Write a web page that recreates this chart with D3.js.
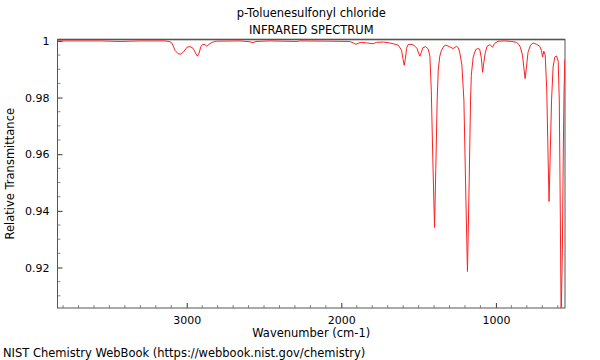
<!DOCTYPE html>
<html>
<head>
<meta charset="utf-8">
<script src="https://cdn.jsdelivr.net/npm/d3@7"></script>
<style>
  body { margin: 0; background: #fff; }
  svg { font-family: "DejaVu Sans", sans-serif; }
</style>
</head>
<body>
<div id="chart"></div>
<script>
// spectrum (wavenumber, transmittance)
const wavenumbers = [3836, 3560, 3431, 3300, 3140, 3108, 3095, 3076, 3056, 3037, 3017, 2998, 2979, 2959, 2943, 2931, 2920, 2908, 2895, 2882, 2869, 2856, 2836, 2810, 2655, 2591, 2571, 2552, 2462, 2287, 2270, 2074, 1945, 1919, 1906, 1886, 1869, 1836, 1794, 1772, 1729, 1697, 1665, 1632, 1610, 1602, 1593, 1585, 1578, 1568, 1550, 1531, 1511, 1500, 1492, 1482, 1473, 1453, 1438, 1427, 1418, 1408, 1397, 1389, 1380, 1373, 1363, 1352, 1337, 1324, 1298, 1277, 1255, 1243, 1233, 1220, 1207, 1194, 1184, 1175, 1164, 1159, 1147, 1130, 1117, 1105, 1094, 1086, 1078, 1068, 1057, 1039, 1022, 1007, 986, 942, 897, 867, 852, 842, 828, 819, 811, 803, 792, 776, 759, 737, 716, 706, 698, 690, 681, 671, 662, 656, 648, 640, 630, 619, 608, 597, 590, 583, 578, 570, 564, 559, 554];
const transmittance = [1.0000, 1.0000, 0.9998, 1.0000, 1.0000, 0.9997, 0.9992, 0.9967, 0.9955, 0.9953, 0.9964, 0.9978, 0.9980, 0.9974, 0.9957, 0.9946, 0.9957, 0.9981, 0.9988, 0.9987, 0.9981, 0.9988, 0.9995, 0.9999, 1.0000, 0.9997, 0.9994, 0.9998, 1.0000, 0.9998, 1.0000, 0.9999, 0.9998, 0.9992, 0.9988, 0.9993, 0.9995, 0.9993, 0.9990, 0.9995, 0.9996, 0.9994, 0.9990, 0.9985, 0.9967, 0.9939, 0.9914, 0.9939, 0.9974, 0.9987, 0.9988, 0.9985, 0.9974, 0.9957, 0.9946, 0.9960, 0.9976, 0.9980, 0.9971, 0.9946, 0.9826, 0.9580, 0.9341, 0.9545, 0.9791, 0.9897, 0.9946, 0.9967, 0.9981, 0.9985, 0.9979, 0.9973, 0.9981, 0.9976, 0.9957, 0.9914, 0.9791, 0.9438, 0.9186, 0.9438, 0.9791, 0.9879, 0.9943, 0.9970, 0.9973, 0.9971, 0.9939, 0.9889, 0.9925, 0.9960, 0.9981, 0.9987, 0.9978, 0.9992, 0.9999, 1.0000, 0.9998, 0.9995, 0.9988, 0.9978, 0.9950, 0.9904, 0.9867, 0.9904, 0.9960, 0.9985, 0.9993, 0.9988, 0.9981, 0.9967, 0.9943, 0.9964, 0.9950, 0.9826, 0.9580, 0.9433, 0.9615, 0.9791, 0.9908, 0.9943, 0.9947, 0.9928, 0.9791, 0.9368, 0.9016, 0.9263, 0.9615, 0.9826, 0.9934];

const xMajorTicks = [3000, 2000, 1000];
const yMajorTicks = [1, 0.98, 0.96, 0.94, 0.92];
const yTickLabels = ["1", "0.98", "0.96", "0.94", "0.92"];

const width = 600, height = 360;
const margin = { top: 39.5, right: 35, bottom: 52, left: 57.5 };

const svg = d3.select("#chart")
  .append("svg")
  .attr("width", width)
  .attr("height", height);

const x = d3.scaleLinear()
  .domain([3836, 553])
  .range([margin.left, width - margin.right]);

const y = d3.scaleLinear()
  .domain([0.9057, 1.0005])
  .range([height - margin.bottom, margin.top]);

const points = wavenumbers.map((w, i) => [w, transmittance[i]]);

// clip so the deepest band runs off the bottom like in the original
svg.append("clipPath")
  .attr("id", "plot-clip")
  .append("rect")
  .attr("x", margin.left)
  .attr("y", margin.top)
  .attr("width", width - margin.left - margin.right)
  .attr("height", height - margin.top - margin.bottom);

const line = d3.line()
  .x(d => x(d[0]))
  .y(d => y(d[1]));

// x ticks, pointing up into the plot
const xMinor = d3.range(600, 3900, 100).filter(v => !xMajorTicks.includes(v) && v <= 3836 && v >= 553);
const xAxis = svg.append("g")
  .attr("transform", `translate(0,${height - margin.bottom})`)
  .call(d3.axisBottom(x).tickValues(xMajorTicks).tickSize(-5).tickPadding(8).tickFormat(d3.format("d")));
xAxis.select(".domain").remove();
xAxis.selectAll("line").attr("stroke", "#333");
xAxis.selectAll("text").attr("font-size", 11).attr("fill", "#000").attr("font-family", "DejaVu Sans");

svg.append("g")
  .selectAll("line")
  .data(xMinor)
  .join("line")
  .attr("x1", d => x(d)).attr("x2", d => x(d))
  .attr("y1", height - margin.bottom).attr("y2", height - margin.bottom - 3)
  .attr("stroke", "#888");

// y ticks, pointing right into the plot
const yMinor = d3.range(0.91, 1.0001, 0.005).filter(v => !yMajorTicks.some(t => Math.abs(t - v) < 1e-6));
const yAxis = svg.append("g")
  .attr("transform", `translate(${margin.left},0)`)
  .call(d3.axisLeft(y).tickValues(yMajorTicks).tickSize(-5).tickPadding(8).tickFormat((d, i) => yTickLabels[i]));
yAxis.select(".domain").remove();
yAxis.selectAll("line").attr("stroke", "#333");
yAxis.selectAll("text").attr("font-size", 11).attr("fill", "#000").attr("font-family", "DejaVu Sans");

svg.append("g")
  .selectAll("line")
  .data(yMinor)
  .join("line")
  .attr("x1", margin.left).attr("x2", margin.left + 3)
  .attr("y1", d => y(d)).attr("y2", d => y(d))
  .attr("stroke", "#888");

// frame
svg.append("line")
  .attr("x1", margin.left).attr("x2", width - margin.right)
  .attr("y1", margin.top).attr("y2", margin.top)
  .attr("stroke", "#999").attr("stroke-width", 2);
svg.append("rect")
  .attr("x", margin.left)
  .attr("y", margin.top)
  .attr("width", width - margin.left - margin.right)
  .attr("height", height - margin.top - margin.bottom)
  .attr("fill", "none")
  .attr("stroke", "#555")
  .attr("stroke-width", 1);

svg.append("path")
  .datum(points)
  .attr("clip-path", "url(#plot-clip)")
  .attr("fill", "none")
  .attr("stroke", "#ff2020")
  .attr("stroke-width", 1)
  .attr("d", line);

// titles and labels
const cx = (margin.left + width - margin.right) / 2;
svg.append("text")
  .attr("x", cx).attr("y", 17)
  .attr("text-anchor", "middle").attr("font-size", 11.5)
  .text("p-Toluenesulfonyl chloride");
svg.append("text")
  .attr("x", cx).attr("y", 34)
  .attr("text-anchor", "middle").attr("font-size", 11.5)
  .text("INFRARED SPECTRUM");
svg.append("text")
  .attr("x", cx).attr("y", 337)
  .attr("text-anchor", "middle").attr("font-size", 11.5)
  .text("Wavenumber (cm-1)");
svg.append("text")
  .attr("transform", `translate(14,${(margin.top + height - margin.bottom) / 2}) rotate(-90)`)
  .attr("text-anchor", "middle").attr("font-size", 11.5)
  .text("Relative Transmittance");
svg.append("text")
  .attr("x", 3).attr("y", 357)
  .attr("font-size", 11.5)
  .text("NIST Chemistry WebBook (https://webbook.nist.gov/chemistry)");
</script>
</body>
</html>
